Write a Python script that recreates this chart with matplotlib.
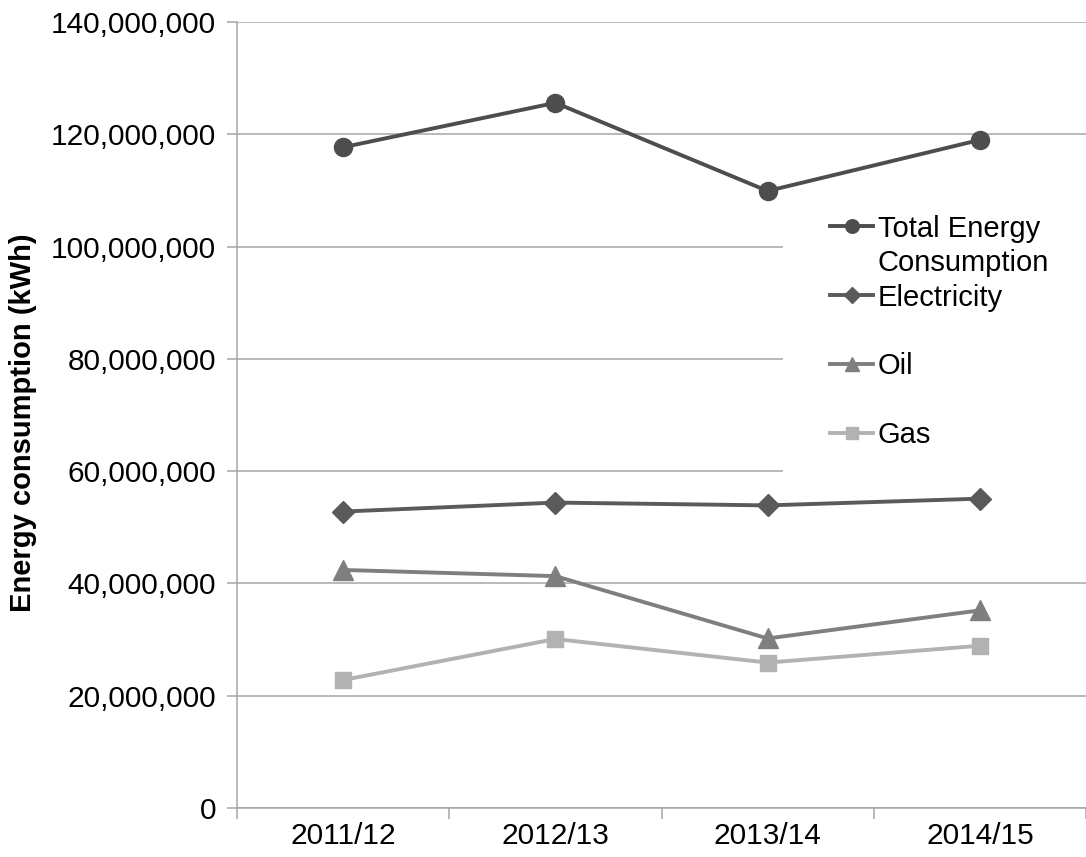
import numpy as np
import matplotlib.pyplot as plt
from matplotlib.lines import Line2D
from matplotlib.ticker import FuncFormatter, MultipleLocator

plt.rcParams['font.family'] = ['Liberation Sans', 'DejaVu Sans']

years = ['2011/12', '2012/13', '2013/14', '2014/15']
total = [117.7e6, 125.6e6, 109.9e6, 119.0e6]
electricity = [52.8e6, 54.4e6, 53.9e6, 55.1e6]
oil = [42.4e6, 41.3e6, 30.2e6, 35.2e6]
gas = [22.8e6, 30.1e6, 25.9e6, 28.9e6]

fig = plt.figure(figsize=(10.86, 8.57), dpi=100)
ax = fig.add_axes([237/1086, 1 - 808/857, 1 - 237/1086, (808 - 22)/857])

x = np.arange(len(years))
l_tot, = ax.plot(x, total, color='#4d4d4d', lw=2.8, marker='o', ms=13, zorder=3)
l_ele, = ax.plot(x, electricity, color='#5a5a5a', lw=2.8, marker='D', ms=11, zorder=3)
l_oil, = ax.plot(x, oil, color='#7f7f7f', lw=2.8, marker='^', ms=14, zorder=3)
l_gas, = ax.plot(x, gas, color='#b2b2b2', lw=2.8, marker='s', ms=12, zorder=3)

ax.set_xlim(-0.5, len(years) - 0.5)
ax.set_ylim(0, 140e6)
ax.yaxis.set_major_locator(MultipleLocator(20e6))
ax.yaxis.set_major_formatter(FuncFormatter(lambda v, p: f'{int(v):,}'))
ax.grid(axis='y', color='#a6a6a6', lw=1.1)
ax.set_axisbelow(True)

ax.set_xticks(x)
ax.set_xticklabels(years)
ax.set_xticks(np.arange(-0.5, len(years)), minor=True)
ax.tick_params(axis='x', which='major', length=0, pad=10, labelsize=21.5)
ax.tick_params(axis='x', which='minor', length=8, width=1.1, color='#a6a6a6')
ax.tick_params(axis='y', length=7, width=1.1, color='#a6a6a6', pad=8, labelsize=21.5)

for s in ['top', 'right']:
    ax.spines[s].set_visible(False)
for s in ['left', 'bottom']:
    ax.spines[s].set_color('#a6a6a6')
    ax.spines[s].set_linewidth(1.1)

ax.set_ylabel('Energy consumption (kWh)', fontsize=21, fontweight='bold')
ax.yaxis.set_label_coords(-0.236, 0.49)

blank = Line2D([], [], linestyle='none')
handles = [l_tot, blank, l_ele, blank, l_oil, blank, l_gas]
labels = ['Total Energy', 'Consumption', 'Electricity', ' ', 'Oil', ' ', 'Gas']
leg = ax.legend(handles, labels, loc='upper left', bbox_to_anchor=(783/1086, 1 - 168/857),
                bbox_transform=fig.transFigure,
                fontsize=21, frameon=True, facecolor='white', edgecolor='none', framealpha=1,
                handlelength=1.5, handletextpad=0.15, labelspacing=0.22, borderpad=1.6,
                borderaxespad=0, markerscale=0.75)
leg.get_frame().set_boxstyle('square', pad=0)
leg.set_zorder(2.5)

fig.savefig('out.png', dpi=100)
